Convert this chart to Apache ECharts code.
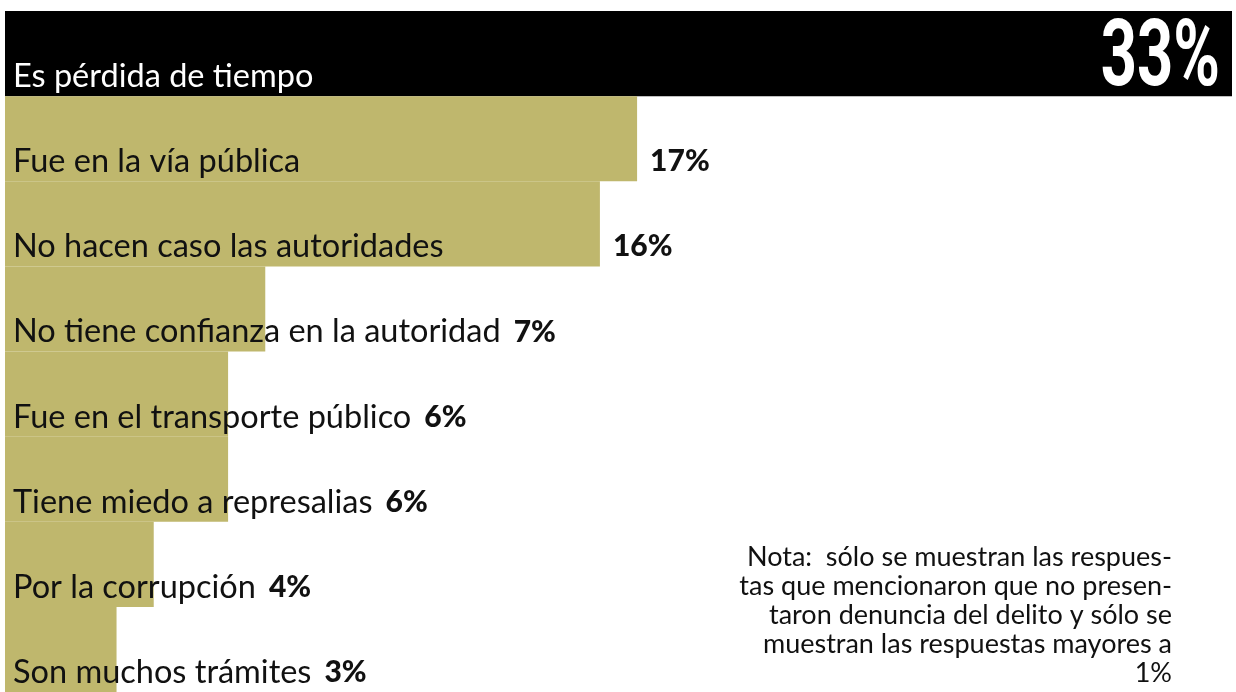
<!DOCTYPE html>
<html>
<head>
<meta charset="utf-8">
<script src="https://cdn.jsdelivr.net/npm/echarts@6/dist/echarts.min.js"></script>
<style>
  html, body { margin: 0; padding: 0; background: #fff; }
  #chart { width: 1236px; height: 692px; }
</style>
</head>
<body>
<div id="chart"></div>
<script>
// razones para no denunciar (%)
const categories = [
  'Es pérdida de tiempo',
  'Fue en la vía pública',
  'No hacen caso las autoridades',
  'No tiene confianza en la autoridad',
  'Fue en el transporte público',
  'Tiene miedo a represalias',
  'Por la corrupción',
  'Son muchos trámites'
]
const values = [33, 17, 16, 7, 6, 6, 4, 3]
const noteLines = [
  'Nota:  sólo se muestran las respues-',
  'tas que mencionaron que no presen-',
  'taron denuncia del delito y sólo se',
  'muestran las respuestas mayores a',
  '1%'
]

const gridLeft = 5
const gridRight = 4
const gridTop = 11
const nameFont = { family: 'Lato', size: 32.5, weight: 'normal' }
const valFont = { family: 'Lato', size: 30, weight: '900' }

const ctx = document.createElement('canvas').getContext('2d')
function textWidth(text, f) {
  ctx.font = f.weight + ' ' + f.size + 'px ' + f.family
  return ctx.measureText(text).width
}

const chart = echarts.init(document.getElementById('chart'))
const xMax = Math.max(...values)
const pxPerUnit = (1236 - gridLeft - gridRight) / xMax

// spacer between name and value: value goes after the bar or after the text
const rich = {
  n: { fontFamily: nameFont.family, fontSize: nameFont.size, color: '#111' },
  w: { fontFamily: nameFont.family, fontSize: nameFont.size, color: '#fff' },
  v: { fontFamily: valFont.family, fontSize: valFont.size, fontWeight: valFont.weight, color: '#111' }
}
values.forEach((v, i) => {
  const tw = textWidth(categories[i], nameFont)
  rich['s' + i] = { width: Math.max(v * pxPerUnit + 5 - tw, 13) }
})

chart.setOption({
  backgroundColor: '#fff',
  animation: false,
  grid: {
    left: gridLeft,
    right: gridRight,
    top: gridTop,
    bottom: 0
  },
  xAxis: {
    type: 'value',
    min: 0,
    max: xMax,
    show: false
  },
  yAxis: {
    type: 'category',
    inverse: true,
    data: categories,
    show: false
  },
  series: [
    {
      type: 'bar',
      barWidth: '100%',
      barCategoryGap: 0,
      data: values.map((v, i) => ({
        value: v,
        itemStyle: { color: i === 0 ? '#000' : '#bfb76d' }
      })),
      label: {
        show: true,
        position: 'insideLeft',
        distance: 8,
        offset: [0, 23],
        formatter(p) {
          if (p.dataIndex === 0) return '{w|' + p.name + '}'
          return '{n|' + p.name + '}{s' + p.dataIndex + '| }{v|' + p.value + '%}'
        },
        rich: rich
      }
    }
  ]
})

// big condensed figure for the first bar, placed from the axis scale
let topEnd = chart.convertToPixel({ seriesIndex: 0 }, [values[0], 0])
if (!topEnd || isNaN(topEnd[0]) || isNaN(topEnd[1])) {
  topEnd = [gridLeft + values[0] * pxPerUnit, gridTop + (692 - gridTop) / categories.length / 2]
}
chart.setOption({
  graphic: [
    {
      type: 'text',
      x: topEnd[0] - 12,
      y: topEnd[1] + 8,
      scaleX: 0.68,
      z: 100,
      style: {
        text: values[0] + '%',
        textAlign: 'right',
        textVerticalAlign: 'middle',
        fontFamily: 'Roboto',
        fontWeight: 'bold',
        fontSize: 93,
        fill: '#fff'
      }
    },
    {
      type: 'text',
      x: 1172,
      y: 543,
      style: {
        text: noteLines.join('\n'),
        align: 'right',
        verticalAlign: 'top',
        fontFamily: 'Lato',
        fontSize: 27,
        lineHeight: 29,
        fill: '#111'
      }
    }
  ]
})
</script>
</body>
</html>
